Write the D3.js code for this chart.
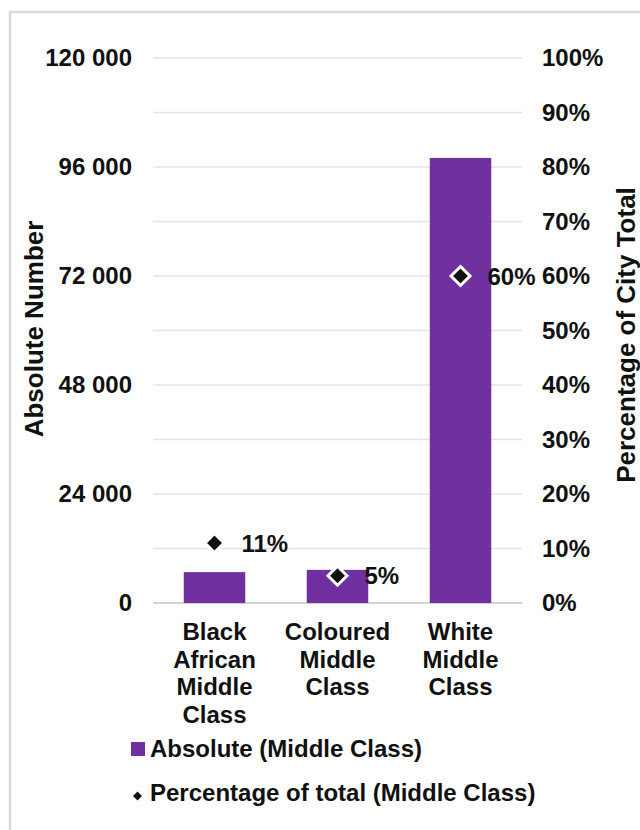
<!DOCTYPE html>
<html>
<head>
<meta charset="utf-8">
<script src="https://cdn.jsdelivr.net/npm/d3@7"></script>
<style>
  html, body { margin: 0; padding: 0; background: #fff; }
  svg { display: block; font-family: "Liberation Sans", Arial, sans-serif; font-weight: bold; }
</style>
</head>
<body>
<svg id="chart" width="640" height="830"></svg>
<script>
// Middle class population by group
const categories = [
  ["Black", "African", "Middle", "Class"],
  ["Coloured", "Middle", "Class"],
  ["White", "Middle", "Class"]
];
const absoluteValues = [6800, 7300, 98000];
const percentValues = [0.11, 0.05, 0.60];
const leftTicks = [0, 24000, 48000, 72000, 96000, 120000];
const rightTicks = [0, 0.1, 0.2, 0.3, 0.4, 0.5, 0.6, 0.7, 0.8, 0.9, 1.0];
const seriesNames = ["Absolute (Middle Class)", "Percentage of total (Middle Class)"];

const purple = "#7030A0";
const ink = "#111";
const fontSize = 24;
const svg = d3.select("#chart");

// outer frame
svg.append("rect")
  .attr("x", 10).attr("y", 12).attr("width", 700).attr("height", 830)
  .attr("fill", "none").attr("stroke", "#d9d9d9").attr("stroke-width", 2.5);

const plot = { left: 153, right: 522, top: 58, bottom: 603 };

const x = d3.scaleBand()
  .domain(d3.range(categories.length))
  .range([plot.left, plot.right])
  .paddingInner(0.5).paddingOuter(0.25);
const yAbs = d3.scaleLinear().domain([0, 120000]).range([plot.bottom, plot.top]);
const yPct = d3.scaleLinear().domain([0, 1]).range([plot.bottom, plot.top]);

// gridlines every 10%
svg.append("g").selectAll("line")
  .data(rightTicks)
  .join("line")
  .attr("x1", plot.left).attr("x2", plot.right)
  .attr("y1", d => yPct(d))
  .attr("y2", d => yPct(d))
  .attr("stroke", d => d === 0 ? "#d4d4d4" : "#e4e4e4")
  .attr("stroke-width", d => d === 0 ? 2 : 1.5);

const fmtAbs = d => d3.format(",")(d).replace(/,/g, " ");

function styleTicks(g) {
  g.select(".domain").remove();
  g.selectAll("text")
    .attr("font-size", fontSize).attr("font-weight", "bold").attr("fill", ink)
    .attr("font-family", "Liberation Sans, Arial, sans-serif");
}

// left axis
svg.append("g")
  .attr("transform", `translate(${plot.left - 21},0)`)
  .call(d3.axisLeft(yAbs).tickValues(leftTicks).tickFormat(fmtAbs).tickSize(0).tickPadding(0))
  .call(styleTicks);

// right axis
svg.append("g")
  .attr("transform", `translate(${plot.right + 20},0)`)
  .call(d3.axisRight(yPct).tickValues(rightTicks).tickFormat(d3.format(".0%")).tickSize(0).tickPadding(0))
  .call(styleTicks);

// bars
svg.append("g").selectAll("rect")
  .data(absoluteValues)
  .join("rect")
  .attr("x", (d, i) => x(i))
  .attr("width", x.bandwidth())
  .attr("y", d => yAbs(d))
  .attr("height", d => yAbs(0) - yAbs(d))
  .attr("fill", purple);

// percentage markers
const diamond = d3.symbol().type(d3.symbolDiamond2).size(230);
svg.append("g").selectAll("path")
  .data(percentValues)
  .join("path")
  .attr("d", diamond)
  .attr("transform", (d, i) => `translate(${x(i) + x.bandwidth() / 2},${yPct(d)})`)
  .attr("fill", ink)
  .attr("stroke", "#fff")
  .attr("stroke-width", 3);

svg.append("g").selectAll("text")
  .data(percentValues)
  .join("text")
  .attr("x", (d, i) => x(i) + x.bandwidth() / 2 + 27)
  .attr("y", d => yPct(d))
  .attr("dy", "0.36em")
  .attr("font-size", fontSize)
  .attr("fill", ink)
  .text(d => d3.format(".0%")(d));

// category labels
const catG = svg.append("g");
categories.forEach((lines, i) => {
  const cx = x(i) + x.bandwidth() / 2;
  const t = catG.append("text")
    .attr("x", cx)
    .attr("y", 640)
    .attr("text-anchor", "middle")
    .attr("font-size", fontSize)
    .attr("fill", ink);
  lines.forEach((ln, j) => {
    t.append("tspan").attr("x", cx).attr("dy", j === 0 ? 0 : 27.7).text(ln);
  });
});

// axis titles
svg.append("text")
  .attr("transform", "translate(43,329) rotate(-90)")
  .attr("text-anchor", "middle")
  .attr("font-size", 26)
  .attr("fill", ink)
  .text("Absolute Number");
svg.append("text")
  .attr("transform", "translate(635,335) rotate(-90)")
  .attr("text-anchor", "middle")
  .attr("font-size", 26)
  .attr("fill", ink)
  .text("Percentage of City Total");

// legend
const leg = svg.append("g");
leg.append("rect")
  .attr("x", 131).attr("y", 742).attr("width", 14).attr("height", 14)
  .attr("fill", purple);
leg.append("text")
  .attr("x", 150).attr("y", 757)
  .attr("font-size", fontSize).attr("fill", ink)
  .text(seriesNames[0]);
leg.append("path")
  .attr("d", d3.symbol().type(d3.symbolDiamond2).size(52))
  .attr("transform", "translate(137.5,796)")
  .attr("fill", ink);
leg.append("text")
  .attr("x", 150).attr("y", 801)
  .attr("font-size", fontSize).attr("fill", ink)
  .text(seriesNames[1]);
</script>
</body>
</html>
